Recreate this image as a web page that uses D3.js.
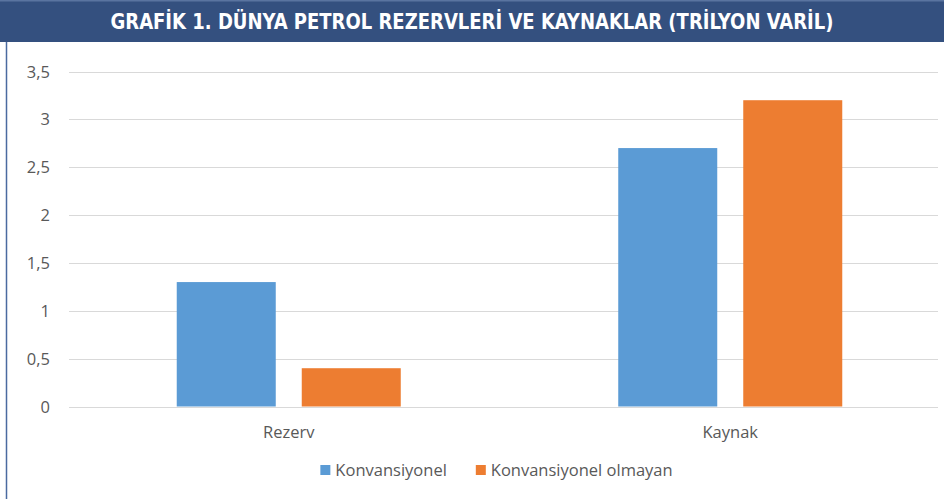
<!DOCTYPE html>
<html>
<head>
<meta charset="utf-8">
<script src="https://cdn.jsdelivr.net/npm/d3@7"></script>
<style>
  body { margin: 0; background: #fff; }
  svg { display: block; }
  text { font-family: "Open Sans", "Noto Sans", sans-serif; }
  text.title { font-family: "DejaVu Sans Condensed", "Liberation Sans Narrow", sans-serif; }
</style>
</head>
<body>
<svg id="chart"></svg>
<script>
// values
const categories = ["Rezerv", "Kaynak"]
const seriesNames = ["Konvansiyonel", "Konvansiyonel olmayan"]
const konvansiyonel = [1.3, 2.7]
const olmayan = [0.4, 3.2]
const yTicks = [0, 0.5, 1, 1.5, 2, 2.5, 3, 3.5]
const title = "GRAFİK 1. DÜNYA PETROL REZERVLERİ VE KAYNAKLAR (TRİLYON VARİL)"

const colors = ["#5b9bd5", "#ed7d31"]

var width = 944, height = 499
var margin = ({top: 71.5, bottom: 92.5, left: 68, right: 6})
var labelSize = 16.5

const rows = categories.map((c, i) => ({cat: c, values: [konvansiyonel[i], olmayan[i]]}))

const svg = d3.select("#chart")
  .attr("width", width)
  .attr("height", height)

// title bar
svg.append("rect")
  .attr("x", 0).attr("y", 0)
  .attr("width", width).attr("height", 42)
  .attr("fill", "#34507f")
svg.append("rect")
  .attr("x", 0).attr("y", 0)
  .attr("width", width).attr("height", 1.5)
  .attr("fill", "#5a74a0")
svg.append("text")
  .classed("title", true)
  .attr("x", 472).attr("y", 29)
  .attr("text-anchor", "middle")
  .attr("fill", "#fff")
  .attr("font-weight", "bold")
  .attr("font-size", 21)
  .attr("textLength", 723)
  .attr("lengthAdjust", "spacingAndGlyphs")
  .text(title)

// left frame line
svg.append("line")
  .attr("x1", 6.5).attr("x2", 6.5)
  .attr("y1", 42).attr("y2", height)
  .attr("stroke", "#4a6aa0")
  .attr("stroke-width", 1.5)

let y = d3.scaleLinear()
  .domain([0, 3.5])
  .range([height - margin.bottom, margin.top])

let x = d3.scaleBand()
  .domain(categories)
  .range([68, 951])
  .paddingInner(0.4926)
  .paddingOuter(0.2463)

let xs = d3.scaleBand()
  .domain(seriesNames)
  .range([0, x.bandwidth()])
  .paddingInner(0.208)

const locale = d3.formatLocale({decimal: ",", thousands: ".", grouping: [3], currency: ["", ""]})
const yformat = locale.format("~g")

// gridlines + y labels
const grid = svg.append("g").attr("id", "grid")
grid.selectAll("line")
  .data(yTicks)
  .join("line")
  .attr("x1", 69).attr("x2", 938)
  .attr("y1", d => Math.round(y(d)) + 0.5)
  .attr("y2", d => Math.round(y(d)) + 0.5)
  .attr("stroke", "#d9d9d9")
  .attr("stroke-width", 1)

svg.append("g").attr("id", "yaxis")
  .selectAll("text")
  .data(yTicks)
  .join("text")
  .attr("x", 50)
  .attr("y", d => y(d) + 6)
  .attr("text-anchor", "end")
  .attr("font-size", labelSize)
  .attr("fill", "#595959")
  .text(d => yformat(d))

// bars
const groups = svg.append("g").attr("id", "bars")
  .selectAll("g")
  .data(rows)
  .join("g")
  .attr("transform", d => `translate(${x(d.cat)},0)`)

groups.selectAll("rect")
  .data(d => d.values.map((v, i) => ({name: seriesNames[i], v: v, i: i})))
  .join("rect")
  .attr("x", d => xs(d.name))
  .attr("width", xs.bandwidth())
  .attr("y", d => y(d.v))
  .attr("height", d => y(0) - y(d.v))
  .attr("fill", d => colors[d.i])

// redraw zero line over bars
svg.append("line")
  .attr("x1", 69).attr("x2", 938)
  .attr("y1", Math.round(y(0)) + 0.5).attr("y2", Math.round(y(0)) + 0.5)
  .attr("stroke", "#d9d9d9")

// category labels
svg.append("g").attr("id", "xaxis")
  .selectAll("text")
  .data(categories)
  .join("text")
  .attr("x", d => x(d) + x.bandwidth() / 2)
  .attr("y", 438)
  .attr("text-anchor", "middle")
  .attr("font-size", labelSize)
  .attr("fill", "#595959")
  .text(d => d)

// legend, centred under the plot
const legend = svg.append("g").attr("id", "legend")
const items = legend.selectAll("g")
  .data(seriesNames)
  .join("g")
items.append("rect")
  .attr("width", 10).attr("height", 10)
  .attr("y", 465)
  .attr("fill", (d, i) => colors[i])
items.append("text")
  .attr("x", 15)
  .attr("y", 476)
  .attr("font-size", labelSize)
  .attr("fill", "#595959")
  .text(d => d)

var widths = []
items.each(function() { widths.push(this.getBBox().width) })
var gap = 29
var total = d3.sum(widths) + gap * (widths.length - 1)
var start = 496.5 - total / 2
items.attr("transform", (d, i) => `translate(${start + d3.sum(widths.slice(0, i)) + gap * i},0)`)
</script>
</body>
</html>
